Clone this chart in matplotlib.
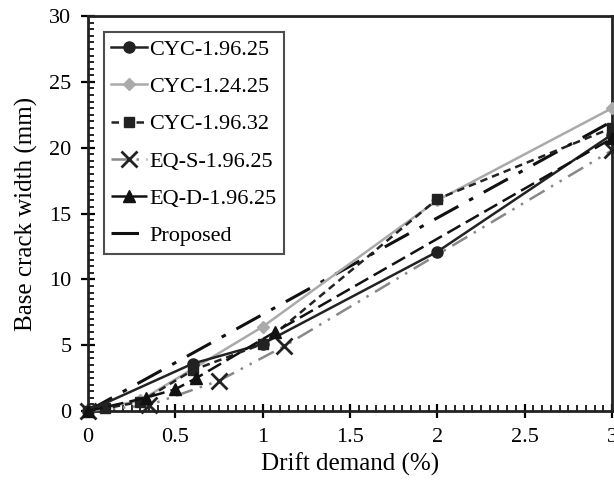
import numpy as np
import matplotlib
matplotlib.use('Agg')
import matplotlib.pyplot as plt
from matplotlib.ticker import MultipleLocator

plt.rcParams['font.family'] = ['Liberation Serif', 'DejaVu Serif']

# data
cyc_a_x = [0, 0.6, 1.0, 2.0, 3.0]
cyc_a_y = [0, 3.6, 5.1, 12.1, 21.0]
cyc_b_x = [0, 0.3, 1.0, 2.0, 3.0]
cyc_b_y = [0, 0.8, 6.4, 16.0, 23.0]
cyc_c_x = [0, 0.1, 0.3, 0.6, 1.0, 2.0, 3.0]
cyc_c_y = [0, 0.2, 0.7, 3.1, 5.1, 16.1, 21.5]
eqs_x = [0, 0.35, 0.75, 1.12, 3.0]
eqs_y = [0, 0.45, 2.3, 4.9, 19.8]
eqd_x = [0, 0.33, 0.5, 0.62, 1.07, 3.0]
eqd_y = [0, 1.0, 1.65, 2.5, 6.0, 20.7]
prop_x = [0, 3.0]
prop_y = [0, 22.0]

fig = plt.figure(figsize=(6.14, 4.86), dpi=100)
ax = fig.add_axes([0.1433, 0.1543, 0.8534, 0.8127])

ax.plot(cyc_a_x, cyc_a_y, color='#222222', lw=1.8, marker='o', ms=8,
        label='CYC-1.96.25', clip_on=False, zorder=5)
ax.plot(cyc_b_x, cyc_b_y, color='#aaaaaa', lw=1.8, marker='D', ms=6.5,
        label='CYC-1.24.25', clip_on=False, zorder=4)
ax.plot(cyc_c_x, cyc_c_y, color='#222222', lw=1.8, ls=(0, (3, 2)), marker='s', ms=7.5,
        label='CYC-1.96.32', clip_on=False, zorder=6)
ax.plot(eqs_x, eqs_y, color='#888888', lw=1.8, ls=(0, (7, 3, 1, 3, 1, 3)), marker='x', ms=12,
        mec='#222222', mew=2, label='EQ-S-1.96.25', clip_on=False, zorder=3)
ax.plot(eqd_x, eqd_y, color='#111111', lw=1.8, ls=(0, (6, 2.5)), marker='^', ms=9,
        label='EQ-D-1.96.25', clip_on=False, zorder=7)
ax.plot(prop_x, prop_y, color='#111111', lw=2.2, ls=(0, (9, 4, 1.5, 4)),
        label='Proposed', clip_on=False, zorder=2)

ax.set_xlim(0, 3)
ax.set_ylim(0, 30)
ax.xaxis.set_major_locator(MultipleLocator(0.5))
ax.xaxis.set_minor_locator(MultipleLocator(0.05))
ax.yaxis.set_major_locator(MultipleLocator(5))
ax.yaxis.set_minor_locator(MultipleLocator(0.5))
ax.set_xticks([0, 0.5, 1, 1.5, 2, 2.5, 3])
ax.set_xticklabels(['0', '0.5', '1', '1.5', '2', '2.5', '3'])
ax.tick_params(which='major', direction='inout', length=10, width=1.6, labelsize=16, pad=7)
ax.tick_params(which='minor', direction='in', length=4, width=1.2)
for s in ax.spines.values():
    s.set_linewidth(2)
    s.set_color('#222222')

ax.set_xlabel('Drift demand (%)', fontsize=18, labelpad=4)
ax.set_ylabel('Base crack width (mm)', fontsize=18, labelpad=8)

leg = ax.legend(loc='upper left', fontsize=16, frameon=True, fancybox=False,
                borderaxespad=0.7, handlelength=1.6, handletextpad=0.1,
                labelspacing=0.75, borderpad=0.35)
leg.get_frame().set_edgecolor('#222222')
leg.get_frame().set_linewidth(1.5)

fig.savefig('out.png', dpi=100)
